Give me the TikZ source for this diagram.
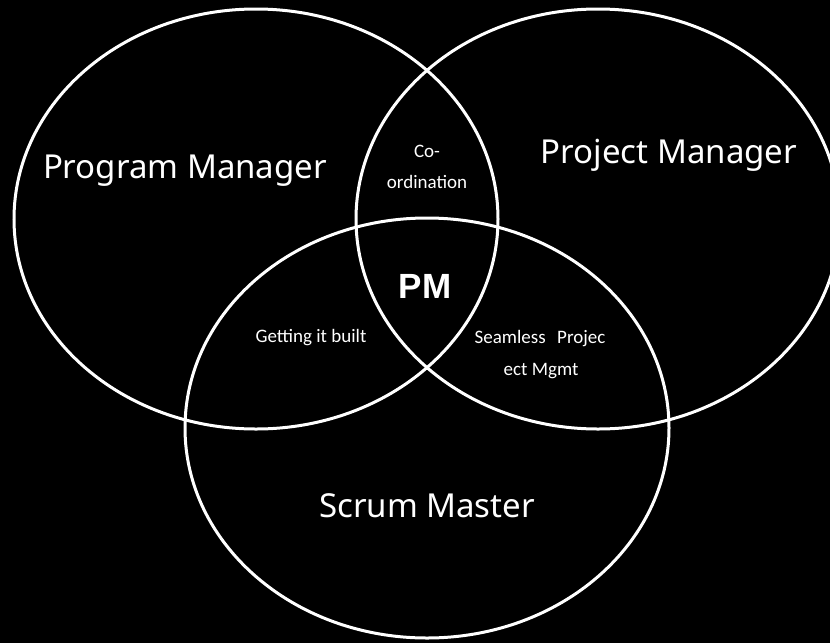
\documentclass[tikz,border=0pt]{standalone}
\usepackage{fontspec}
\setmainfont{Noto Sans}
\newfontfamily\calfont{Carlito}
\newfontfamily\pmfont{Liberation Sans}
\usetikzlibrary{shapes.geometric}
\begin{document}
\begin{tikzpicture}[x=1pt,y=-1pt,
  ring/.style={ellipse, draw=white, line width=3pt, minimum width=484pt, minimum height=420pt, inner sep=0pt},
  big/.style={text=white, font=\fontsize{33}{40}\selectfont, anchor=base, inner sep=0pt},
  bigbold/.style={text=white, font=\pmfont\bfseries\fontsize{35}{40}\selectfont, anchor=base, inner sep=0pt},
  small/.style={text=white, font=\calfont\fontsize{19}{22}\selectfont, anchor=base, inner sep=0pt}]
\fill[black] (0,0) rectangle (830,643);
\useasboundingbox (0,0) rectangle (830,643);
\clip (0,0) rectangle (830,643);
\node[ring] (prog) at (256,219) {};
\node[ring] (proj) at (598,219) {};
\node[ring] (scrum) at (427,428) {};
\node[big] (progt) at (185,178) {Program Manager};
\node[big] (projt) at (669,163) {Project Manager};
\node[big] (scrumt) at (427,517) {Scrum Master};
\node[small] (co1) at (427,157) {Co-};
\node[small] (co2) at (427,188) {ordination};
\node[bigbold] (pm) at (425,298) {PM};
\node[small] (built) at (311,342) {Getting it built};
\node[small] (seam1) at (540,343) {Seamless\hspace{0.6em}Projec};
\node[small] (seam2) at (541,375) {ect Mgmt};
\end{tikzpicture}
\end{document}
